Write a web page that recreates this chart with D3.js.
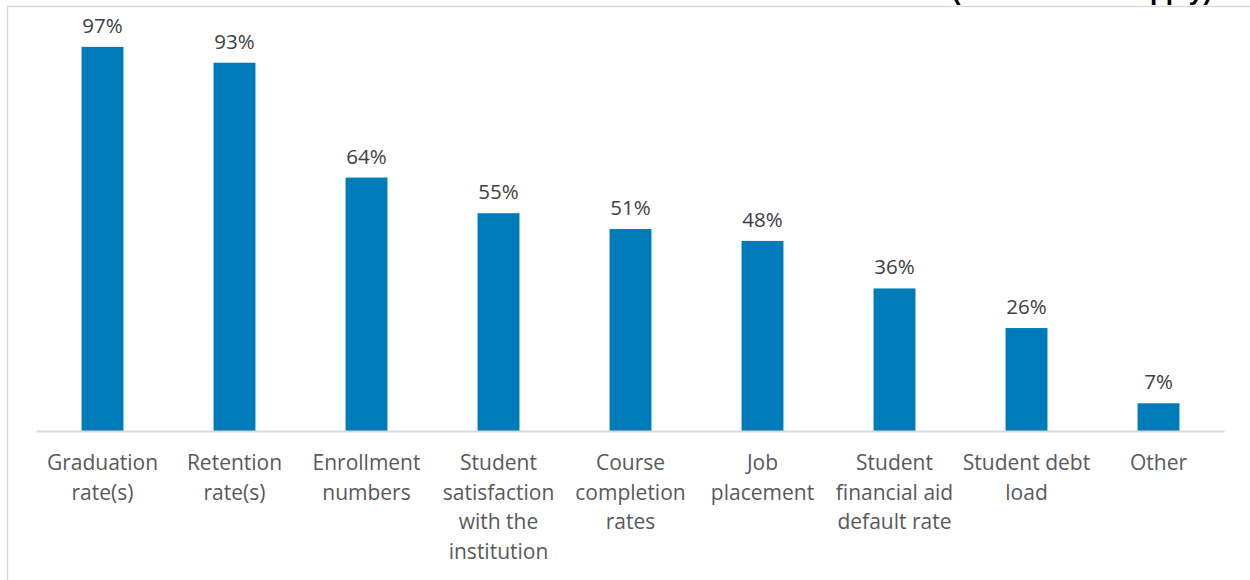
<!DOCTYPE html>
<html>
<head>
<meta charset="utf-8">
<script src="https://cdn.jsdelivr.net/npm/d3@7"></script>
<style>
  html, body { margin: 0; padding: 0; background: #ffffff; }
  svg { display: block; }
</style>
</head>
<body>
<svg id="chart" width="1250" height="580"></svg>
<script>
// Outcomes measured, share of respondents
const categories = [
  ["Graduation", "rate(s)"],
  ["Retention", "rate(s)"],
  ["Enrollment", "numbers"],
  ["Student", "satisfaction", "with the", "institution"],
  ["Course", "completion", "rates"],
  ["Job", "placement"],
  ["Student", "financial aid", "default rate"],
  ["Student debt", "load"],
  ["Other"]
];
const values = [0.97, 0.93, 0.64, 0.55, 0.51, 0.48, 0.36, 0.26, 0.07];
const titleTail = "(Select all that apply)";

const svg = d3.select("#chart");
const W = 1250, H = 580;
const font = "'Open Sans', 'Noto Sans', sans-serif";

// chart-area frame
svg.append("rect")
  .attr("x", 7.5).attr("y", 6.5)
  .attr("width", W + 10).attr("height", H + 10)
  .attr("fill", "#ffffff")
  .attr("stroke", "#d9d9d9").attr("stroke-width", 1.5);

// title line sits above the top edge; only its descenders reach in
svg.append("text")
  .attr("x", 1212).attr("y", -0.5)
  .attr("text-anchor", "end")
  .attr("font-family", "'Liberation Sans', Arial, sans-serif")
  .attr("font-weight", "bold")
  .attr("font-size", 26)
  .attr("fill", "#000000")
  .text(titleTail);

const plot = { left: 36, right: 1224, top: 35, bottom: 431 };

const x = d3.scaleBand()
  .domain(d3.range(categories.length))
  .range([plot.left, plot.right])
  .paddingInner(0.69)
  .paddingOuter(0.345);

const y = d3.scaleLinear()
  .domain([0, 1])
  .range([plot.bottom, plot.top]);

// bars
svg.append("g")
  .selectAll("rect")
  .data(values)
  .join("rect")
  .attr("x", (d, i) => x(i))
  .attr("y", d => y(d))
  .attr("width", x.bandwidth() + 1)
  .attr("height", d => y(0) - y(d))
  .attr("fill", "#007bba");

// value labels
svg.append("g")
  .selectAll("text")
  .data(values)
  .join("text")
  .attr("x", (d, i) => x(i) + x.bandwidth() / 2 + 0.5)
  .attr("y", d => y(d) - 14)
  .attr("text-anchor", "middle")
  .attr("font-family", font)
  .attr("font-size", 20.5)
  .attr("fill", "#404040")
  .text(d => d3.format(".0%")(d));

// category axis
const axis = d3.axisBottom(x).tickSize(0).tickFormat("");
const gx = svg.append("g")
  .attr("transform", `translate(0,${plot.bottom})`)
  .call(axis);
gx.select(".domain")
  .attr("stroke", "#d9d9d9")
  .attr("stroke-width", 2);

gx.selectAll(".tick").each(function(d) {
  const t = d3.select(this).append("text")
    .attr("text-anchor", "middle")
    .attr("font-family", font)
    .attr("font-size", 21)
    .attr("fill", "#595959");
  categories[d].forEach((line, k) => {
    t.append("tspan")
      .attr("x", 0.5)
      .attr("y", 39 + k * 29.5)
      .text(line);
  });
});
</script>
</body>
</html>
